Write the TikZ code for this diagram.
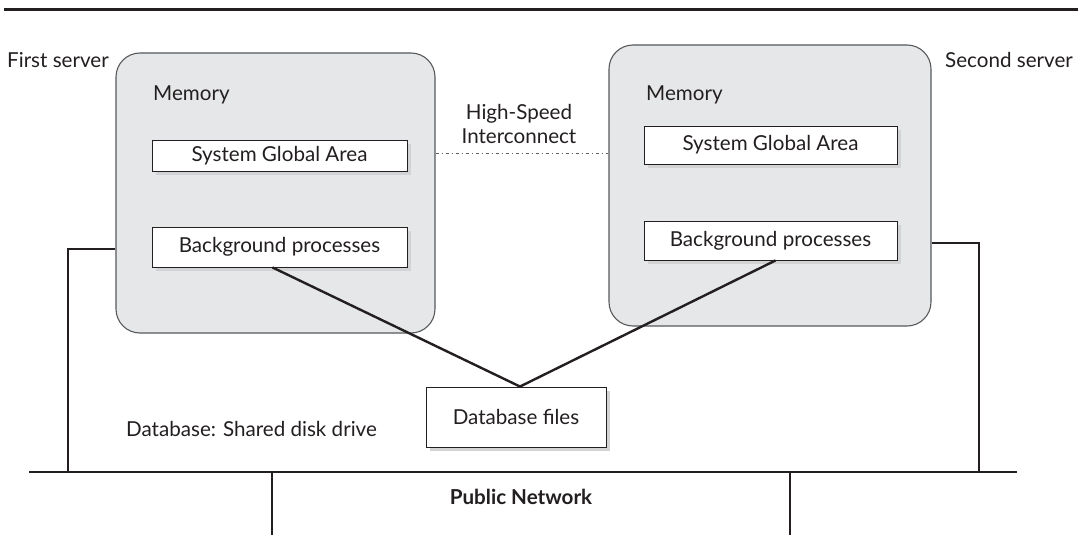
\documentclass[tikz,border=0pt]{standalone}
\usepackage{fontspec}
\setmainfont{Lato}
\usetikzlibrary{calc,shadows}
\definecolor{ink}{HTML}{231F20}
\definecolor{memfill}{HTML}{E6E7E8}
\definecolor{memdraw}{HTML}{58595B}
\definecolor{shadowgray}{HTML}{D1D3D4}
\newcommand{\diafont}{\fontsize{20.6}{23}\selectfont}
\tikzset{
  txt/.style={font=\diafont, text=ink, inner sep=0pt},
  server/.style={draw=memdraw, line width=1.1pt, fill=memfill, rounded corners=24pt, inner sep=0pt},
  whitebox/.style={draw=ink, line width=0.9pt, fill=white, inner sep=0pt,
    font=\diafont, text=ink,
    drop shadow={shadow xshift=3.5pt, shadow yshift=-3.5pt, fill=shadowgray, opacity=1}},
  wire/.style={draw=ink, line width=2.4pt},
  interconnect/.style={draw=ink!70, line width=0.9pt, dash pattern=on 3pt off 3pt on 1pt off 3pt},
}
\begin{document}
\begin{tikzpicture}[x=1pt,y=-1pt]
\useasboundingbox[fill=white] (0,0) rectangle (1085,535);
% top rule
\draw[ink, line width=3.5pt] (4,9.5) -- (1078,9.5);
% server boxes
\node[server, minimum width=319pt, minimum height=280pt] (srv1) at (275.5,193) {};
\node[server, minimum width=322pt, minimum height=281pt] (srv2) at (770,185.5) {};
% labels
\node[txt, anchor=base west] (lfirst) at (7,67) {First server};
\node[txt, anchor=base west] (lsecond) at (945,67) {Second server};
\node[txt, anchor=base west] (mem1) at (153,100) {Memory};
\node[txt, anchor=base west] (mem2) at (646,100) {Memory};
% inner boxes
\node[whitebox, minimum width=255pt, minimum height=31pt] (sga1) at (279.5,155.5) {System Global Area};
\node[whitebox, minimum width=255pt, minimum height=40pt] (bg1) at (279.5,247) {Background processes};
\node[whitebox, minimum width=253pt, minimum height=38pt] (sga2) at (770.5,145) {System Global Area};
\node[whitebox, minimum width=253pt, minimum height=39pt] (bg2) at (770.5,240.5) {Background processes};
% interconnect
\node[txt, anchor=base] (hs) at (519,120) {High-Speed};
\node[txt, anchor=base] (ic) at (519,143) {Interconnect};
\draw[interconnect] (srv1.east |- 0,153) -- (srv2.west |- 0,153);
% database
\node[whitebox, minimum width=180pt, minimum height=60pt] (db) at (516,417) {Database files};
\node[txt, anchor=base west] (dblabel) at (126,436) {Database: Shared disk drive};
\draw[wire] ([xshift=-7pt]bg1.south) -- ([xshift=4pt]db.north) -- ([xshift=5pt]bg2.south);
% public network
\coordinate (netL) at (29,472);
\coordinate (netR) at (1017,472);
\coordinate (n1) at (68,472);
\coordinate (n2) at (979,472);
\coordinate (d1) at (272,472);
\coordinate (d2) at (790,472);
\coordinate (e1) at (272,535);
\coordinate (e2) at (790,535);
\draw[wire] (netL) -- (netR);
\draw[wire] (srv1.west |- 0,249) -| (n1);
\draw[wire] (srv2.east |- 0,243) -| (n2);
\draw[wire] (d1) -- (e1);
\draw[wire] (d2) -- (e2);
\node[txt, font=\diafont\bfseries, anchor=base] (pn) at (521,504) {Public Network};
\end{tikzpicture}
\end{document}
